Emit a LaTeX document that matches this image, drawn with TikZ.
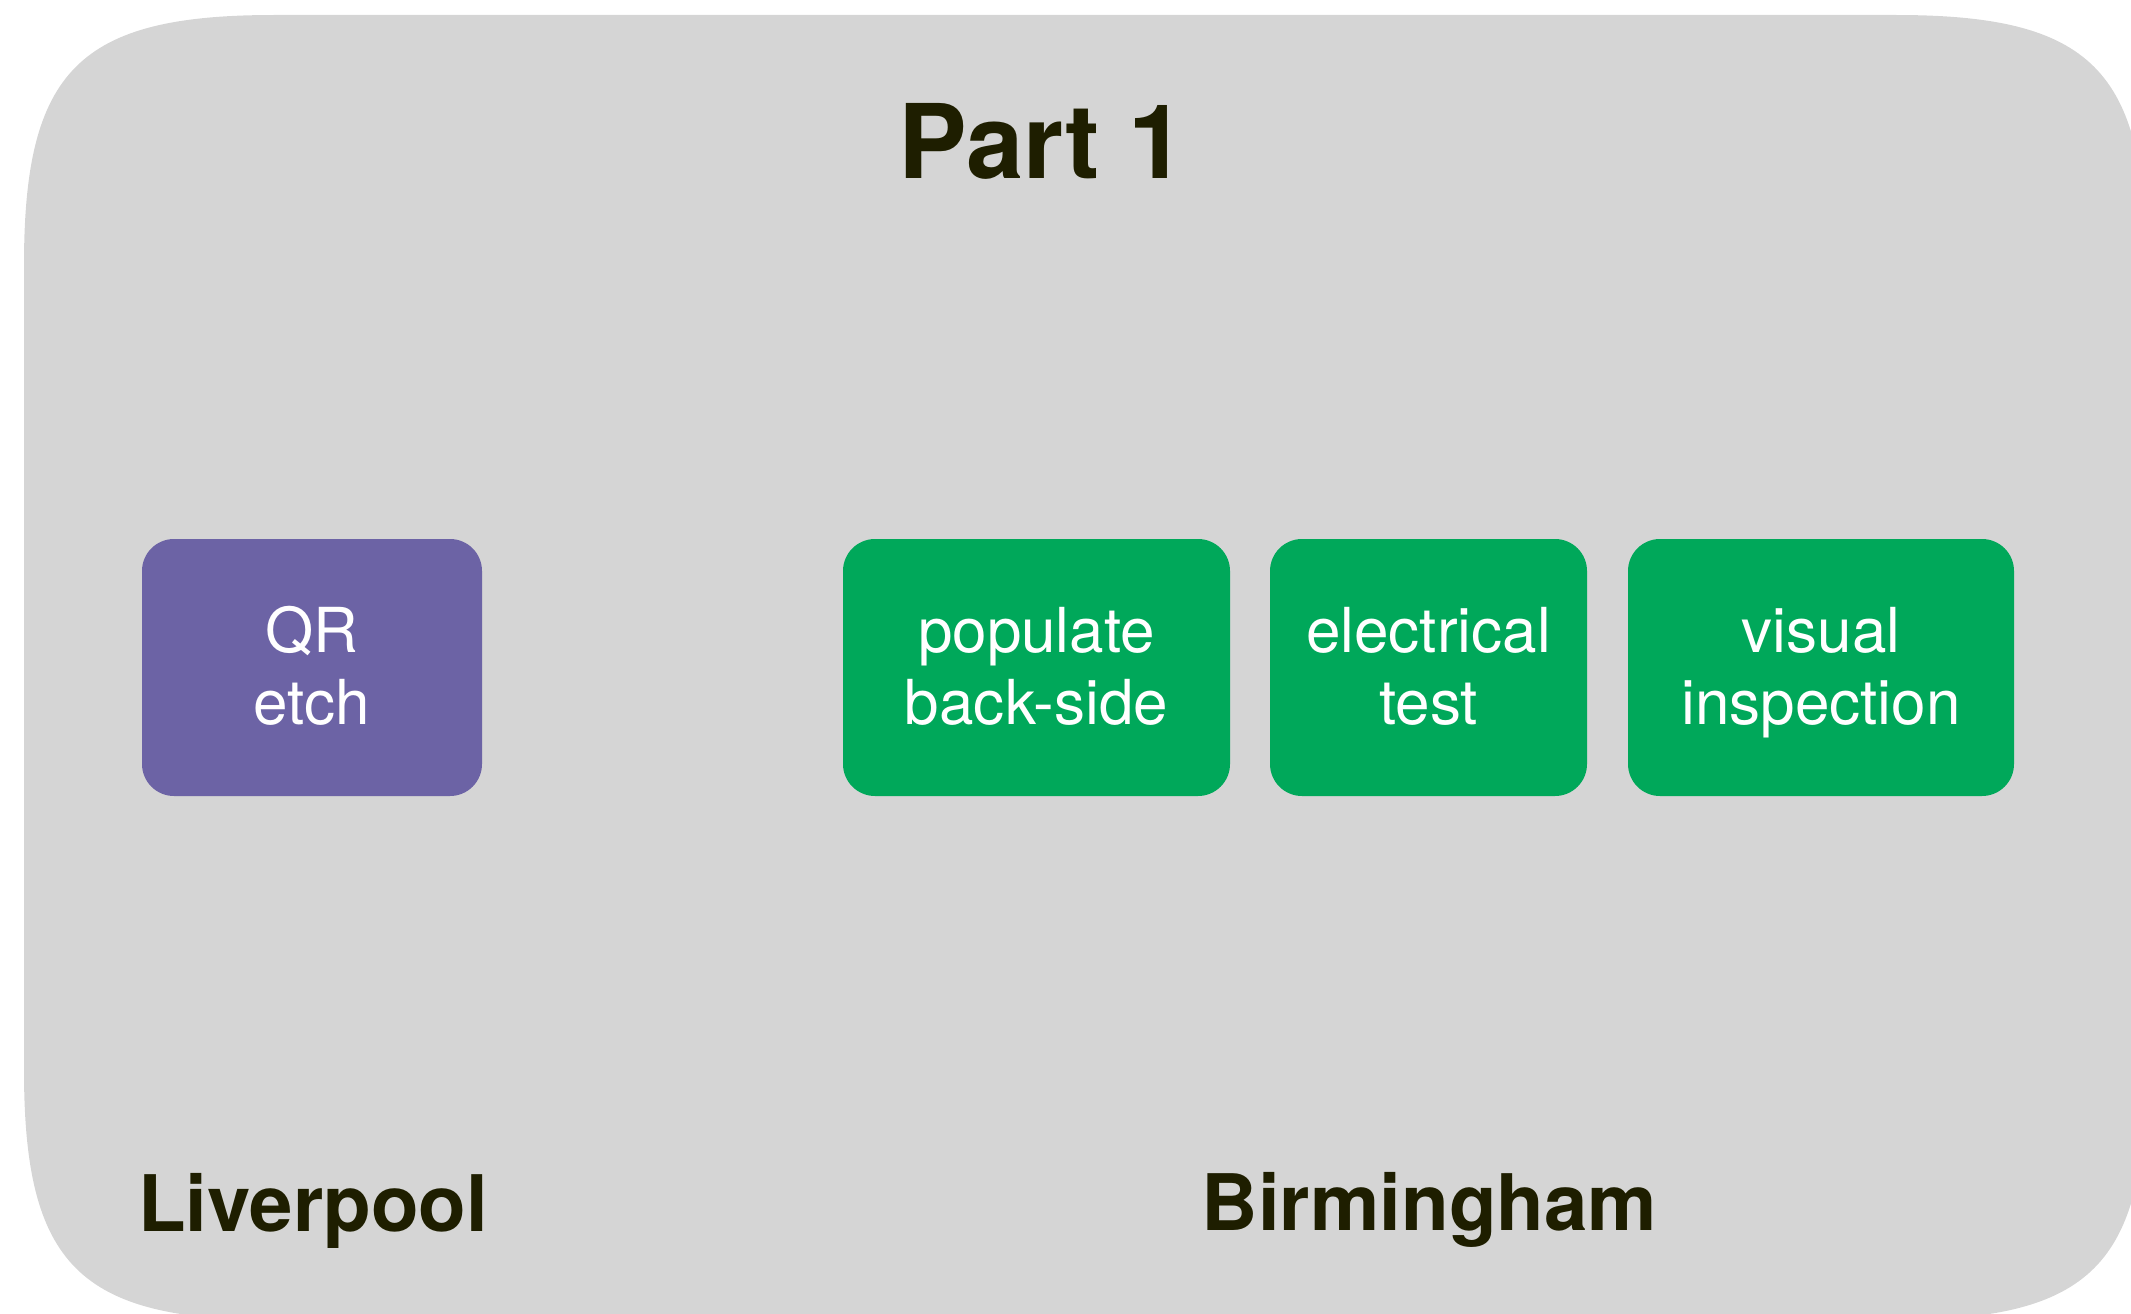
\documentclass[tikz,border=0pt]{standalone}
\usepackage{fontspec}
\setmainfont{TeX Gyre Heros}
\definecolor{bggray}{HTML}{D5D5D5}
\definecolor{purplebox}{HTML}{6C63A5}
\definecolor{greenbox}{HTML}{00A85A}
\definecolor{darktext}{HTML}{1E1E00}
\tikzset{
  procbox/.style={rounded corners=32pt, inner sep=0pt, minimum height=257pt},
  boxtext/.style={inner sep=0pt, text=white, align=center,
    font=\fontsize{62}{72}\selectfont},
  title/.style={text=darktext, font=\bfseries\fontsize{103}{120}\selectfont, anchor=base, inner sep=0pt},
  place/.style={text=darktext, font=\bfseries\fontsize{78}{96}\selectfont, anchor=base, inner sep=0pt}
}
\begin{document}
\begin{tikzpicture}[x=1pt,y=-1pt]
\useasboundingbox (0,0) rectangle (2131,1314);
\begin{scope}
\clip (0,0) rectangle (2131,1314);
\fill[bggray] (24,265) .. controls (24,70) and (79,15) .. (274,15)
  -- (1896,15) .. controls (2091,15) and (2146,70) .. (2146,265)
  -- (2146,1070) .. controls (2146,1265) and (2091,1320) .. (1896,1320)
  -- (274,1320) .. controls (79,1320) and (24,1265) .. (24,1070) -- cycle;
\end{scope}
\node[title] (part) at (1042,178) {Part 1};
\node[procbox, fill=purplebox, minimum width=340pt] (qr) at (312,667.5) {};
\node[procbox, fill=greenbox, minimum width=387pt] (pop) at (1036.5,667.5) {};
\node[procbox, fill=greenbox, minimum width=317pt] (elec) at (1428.5,667.5) {};
\node[procbox, fill=greenbox, minimum width=386pt] (vis) at (1821,667.5) {};
\node[boxtext] (qrt) at ([yshift=-7pt]qr.center) {QR\strut\\etch\strut};
\node[boxtext] (popt) at ([yshift=-7pt]pop.center) {populate\strut\\back-side\strut};
\node[boxtext] (elect) at ([yshift=-7pt]elec.center) {electrical\strut\\test\strut};
\node[boxtext] (vist) at ([yshift=-7pt]vis.center) {visual\strut\\inspection\strut};
\node[place] (liv) at (313,1231) {Liverpool};
\node[place] (bir) at (1429.5,1230) {Birmingham};
\end{tikzpicture}
\end{document}
